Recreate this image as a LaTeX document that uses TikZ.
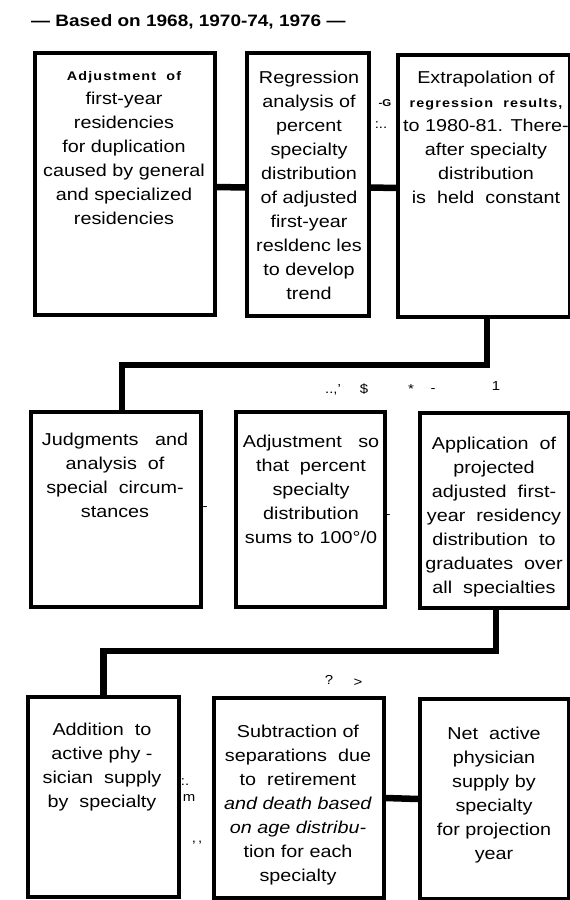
\documentclass[tikz,border=0pt]{standalone}
\usepackage{fontspec}
\setmainfont{Liberation Sans}[FakeStretch=1.15]
\newfontfamily\widebold{Liberation Sans}[FakeStretch=1.15,LetterSpace=9]
\usetikzlibrary{positioning}

\tikzset{
	stage/.style={shape=rectangle,draw=black,line width=3.5pt,inner sep=0pt},
	words/.style={align=center,inner sep=0pt,anchor=north,font=\fontsize{17.2}{24}\selectfont},
	link/.style={line width=6.5pt},
	speck/.style={inner sep=0pt,font=\fontsize{13}{13}\selectfont}
}
\newcommand{\spaced}[1]{{\widebold\bfseries\fontsize{12.5}{24}\selectfont #1}}

\begin{document}
\begin{tikzpicture}[x=1pt,y=-1pt]
	\useasboundingbox (0,0) rectangle (570,900);
	
	\node[anchor=west,inner sep=0pt,font=\bfseries\fontsize{16.5}{20}\selectfont] (title) at (31,22) {— Based on 1968, 1970-74, 1976 —};
	
	\node[stage,minimum width=180pt,minimum height=262pt] (adj)  at (125,184)   {};
	\node[stage,minimum width=122pt,minimum height=263pt] (reg)  at (308,184.5) {};
	\node[stage,minimum width=172pt,minimum height=262pt] (ext)  at (484,186)   {};
	\node[stage,minimum width=170pt,minimum height=195pt] (judg) at (116,509.5) {};
	\node[stage,minimum width=149pt,minimum height=195pt] (norm) at (310.5,509.5) {};
	\node[stage,minimum width=149pt,minimum height=195pt] (appl) at (494.5,510.5) {};
	\node[stage,minimum width=151pt,minimum height=200pt] (addn) at (103.5,797) {};
	\node[stage,minimum width=170pt,minimum height=200pt] (subt) at (299,798)   {};
	\node[stage,minimum width=149pt,minimum height=200pt] (net)  at (494.5,799) {};
	
	\node[words] (adjtxt)  at (124,71)  {\spaced{Adjustment\ \ of}\\first-year\\residencies\\for duplication\\caused by general\\and specialized\\residencies};
	\node[words] (regtxt)  at (309,71)  {Regression\\analysis of\\percent\\specialty\\distribution\\of adjusted\\first-year\\resldenc les\\to develop\\trend};
	\node[words] (exttxt)  at (486,71)  {Extrapolation of\\\spaced{regression\ \ results,}\\to 1980-81. There-\\after specialty\\distribution\\is\ \ held\ \ constant};
	\node[words] (judgtxt) at (115,433) {Judgments\ \ \ and\\analysis\ \ of\\special\ \ circum-\\stances};
	\node[words] (normtxt) at (311,435) {Adjustment\ \ \ so\\that\ \ percent\\specialty\\distribution\\sums to 100°/0};
	\node[words] (appltxt) at (494,437) {Application\ \ of\\projected\\adjusted\ \ first-\\year\ \ residency\\distribution\ \ to\\graduates\ \ over\\all\ \ specialties};
	\node[words] (addntxt) at (102,723) {Addition\ \ to\\active phy -\\sician\ \ supply\\by\ \ specialty};
	\node[words] (subttxt) at (298,725) {Subtraction of\\separations\ \ due\\to\ \ retirement\\\textit{and death based}\\\textit{on age distribu-}\\tion for each\\specialty};
	\node[words] (nettxt)  at (494,727) {Net\ \ active\\physician\\supply by\\specialty\\for projection\\year};
	
	\draw[link] ([yshift=-3pt]adj.east) -- ([yshift=-3pt]reg.west);
	\draw[link] ([yshift=-3pt]reg.east) -- ([yshift=-2pt]ext.west);
	\draw[link] ([xshift=3pt]ext.south) -- ++(0,46) -| ([xshift=6pt]judg.north);
	\draw[link] ([xshift=1.5pt]appl.south) -- ++(0,41) -| (addn.north);
	\draw[link] (subt.east) -- (net.west);
	
	\node[speck,font=\bfseries\fontsize{10}{10}\selectfont] (s1) at (385,103) {-G};
	\node[speck] (s2)  at (381,125) {:..};
	\node[speck] (s3)  at (333,390) {..,'};
	\node[speck] (s4)  at (364,389) {\$};
	\node[speck] (s5)  at (411,389) {*};
	\node[speck] (s6)  at (433,391) {-};
	\node[speck] (s7)  at (496,386) {1};
	\node[speck] (s8)  at (205,509) {-};
	\node[speck] (s9)  at (388,517) {-};
	\node[speck] (s10) at (329,680) {?};
	\node[speck] (s11) at (358,683) {>};
	\node[speck] (s12) at (185,782) {:.};
	\node[speck] (s13) at (189,798) {m};
	\node[speck] (s14) at (197,843) {,\,,};
	
\end{tikzpicture}
\end{document}
